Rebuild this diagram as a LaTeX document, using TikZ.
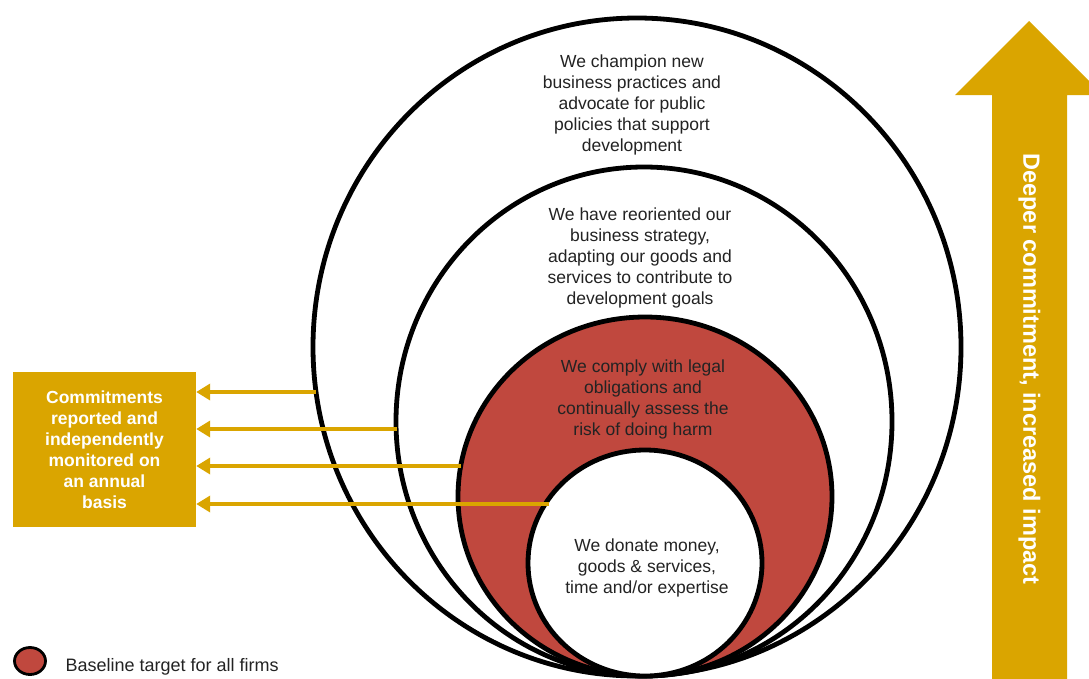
\documentclass[tikz,border=0pt]{standalone}
\usepackage{fontspec}
\setmainfont{Liberation Sans}
\usetikzlibrary{arrows.meta,shapes.geometric}
\definecolor{gold}{RGB}{218,165,0}
\definecolor{brick}{RGB}{192,72,62}
\definecolor{ink}{RGB}{35,35,35}
\begin{document}
\begin{tikzpicture}[x=1pt,y=-1pt,
  ring/.style={draw=black,line width=4.8pt},
  lbl/.style={align=center,text=ink,font=\fontsize{17.5}{21}\selectfont},
  feed/.style={draw=gold,line width=3.5pt,-{Triangle[length=14pt,width=16pt]}}]
\useasboundingbox (0,0) rectangle (1089,678);
\clip (0,0) rectangle (1089,678);
% rings
\draw[ring,fill=white] (637,347) ellipse [x radius=324pt,y radius=329pt];
\draw[ring,fill=white] (644,421.5) ellipse [x radius=248pt,y radius=254.5pt];
\draw[ring,fill=brick] (645,496.5) ellipse [x radius=187pt,y radius=179.5pt];
\draw[ring,fill=white] (645,563) ellipse [x radius=117pt,y radius=113pt];
% ring texts
\node[lbl] (t1) at (632,105) {We champion new\\business practices and\\advocate for public\\policies that support\\development};
\node[lbl] (t2) at (640,258) {We have reoriented our\\business strategy,\\adapting our goods and\\services to contribute to\\development goals};
\node[lbl] (t3) at (643,399) {We comply with legal\\obligations and\\continually assess the\\risk of doing harm};
\node[lbl] (t4) at (647,567.5) {We donate money,\\goods \& services,\\time and/or expertise};
% box
\node[fill=gold,minimum width=183pt,minimum height=155pt,inner sep=0pt,text=white,align=center,
  font=\bfseries\fontsize{17.5}{21}\selectfont] (box) at (104.5,449.5)
  {Commitments\\reported and\\independently\\monitored on\\an annual\\basis};
% connector ends on rings
\coordinate (e1) at (316,392);
\coordinate (e2) at (397,429);
\coordinate (e3) at (461,466);
\coordinate (e4) at (549,504);
\draw[feed] (e1) -- (e1 -| box.east);
\draw[feed] (e2) -- (e2 -| box.east);
\draw[feed] (e3) -- (e3 -| box.east);
\draw[feed] (e4) -- (e4 -| box.east);
% big arrow
\fill[gold] (992,690) -- (992,95) -- (955,95) -- (1029,21) -- (1103,95) -- (1067,95) -- (1067,690) -- cycle;
\node[rotate=-90,text=white,font=\bfseries\fontsize{23.5}{26}\selectfont] (up) at (1029.5,369) {Deeper commitment, increased impact};
% legend
\node[ellipse,draw=black,line width=2.8pt,fill=brick,minimum width=31pt,minimum height=27pt,inner sep=0pt] (key) at (30,661) {};
\node[anchor=west,text=ink,font=\fontsize{18}{21}\selectfont] (keytext) at (62,667) {Baseline target for all firms};
\end{tikzpicture}
\end{document}
